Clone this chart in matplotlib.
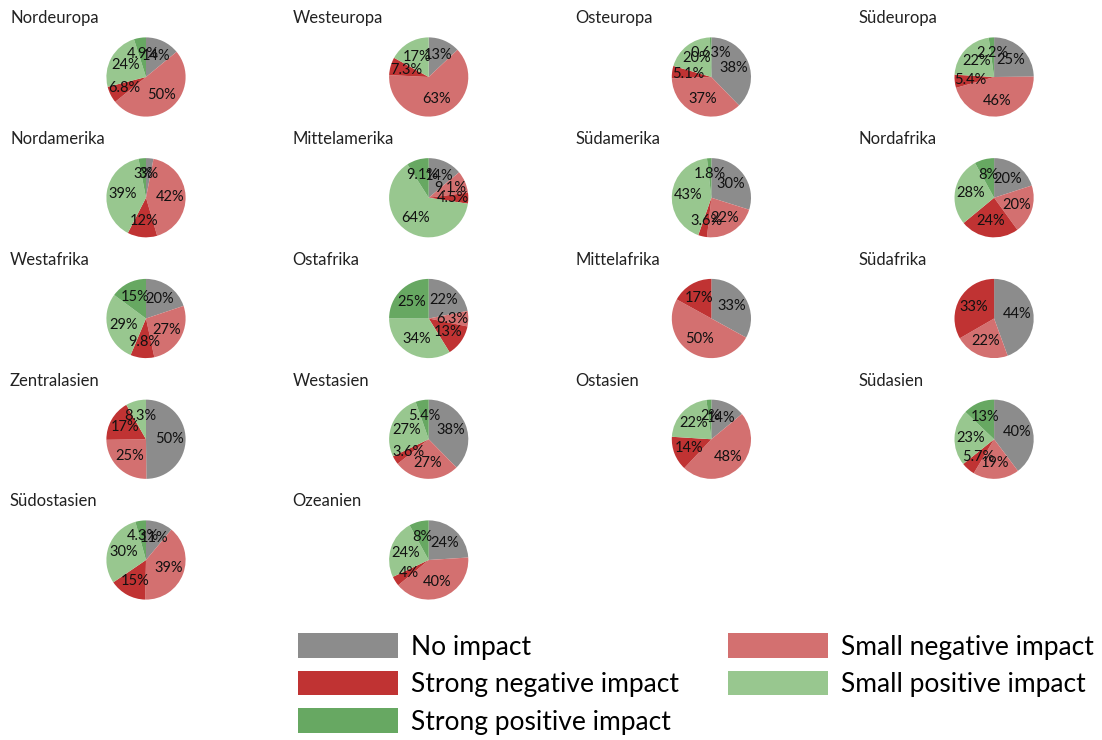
import matplotlib.pyplot as plt
from matplotlib.patches import Patch

plt.rcParams['font.family'] = ['Lato', 'DejaVu Sans']

# Kategorien (Reihenfolge im Uhrzeigersinn ab 12 Uhr)
kategorien = ['No impact', 'Small negative impact', 'Strong negative impact',
              'Small positive impact', 'Strong positive impact']
farben = ['#8c8c8c', '#d37070', '#c03333', '#98c78f', '#67a862']

regionen = ['Nordeuropa', 'Westeuropa', 'Osteuropa', 'Südeuropa',
            'Nordamerika', 'Mittelamerika', 'Südamerika', 'Nordafrika',
            'Westafrika', 'Ostafrika', 'Mittelafrika', 'Südafrika',
            'Zentralasien', 'Westasien', 'Ostasien', 'Südasien',
            'Südostasien', 'Ozeanien']

# Anteile in Prozent je Region (No, Small neg, Strong neg, Small pos, Strong pos)
nordeuropa = [14, 50, 6.8, 24, 4.9]
westeuropa = [13, 63, 7.3, 17, 0]
osteuropa = [38, 37, 5.1, 20, 0.63]
suedeuropa = [25, 46, 5.4, 22, 2.2]
nordamerika = [3, 42, 12, 39, 3]
mittelamerika = [14, 9.1, 4.5, 64, 9.1]
suedamerika = [30, 22, 3.6, 43, 1.8]
nordafrika = [20, 20, 24, 28, 8]
westafrika = [20, 27, 9.8, 29, 15]
ostafrika = [22, 6.3, 13, 34, 25]
mittelafrika = [33, 50, 17, 0, 0]
suedafrika = [44, 22, 33, 0, 0]
zentralasien = [50, 25, 17, 8.3, 0]
westasien = [38, 27, 3.6, 27, 5.4]
ostasien = [14, 48, 14, 22, 2]
suedasien = [40, 19, 5.7, 23, 13]
suedostasien = [11, 39, 15, 30, 4.3]
ozeanien = [24, 40, 4, 24, 8]

werte = [nordeuropa, westeuropa, osteuropa, suedeuropa,
         nordamerika, mittelamerika, suedamerika, nordafrika,
         westafrika, ostafrika, mittelafrika, suedafrika,
         zentralasien, westasien, ostasien, suedasien,
         suedostasien, ozeanien]

W, H = 1102, 740
fig = plt.figure(figsize=(W / 100, H / 100), dpi=100)

ax_w, ax_h = 272, 99
for i, (name, vals) in enumerate(zip(regionen, werte)):
    zeile, spalte = divmod(i, 4)
    x0 = 10 + spalte * 282.7
    cy = 77 + zeile * 120.75
    ax = fig.add_axes([x0 / W, 1 - (cy + ax_h / 2) / H, ax_w / W, ax_h / H])
    # Nullwerte weglassen
    v = [a for a in vals if a > 0]
    c = [f for a, f in zip(vals, farben) if a > 0]
    summe = sum(v)
    ax.pie(v, colors=c, startangle=90, counterclock=False,
           autopct=lambda p, t=summe: f'{p * t / 100:.2g}%',
           textprops={'fontsize': 10.5, 'color': '#111111'},
           wedgeprops={'linewidth': 0})
    ax.set_aspect('equal', adjustable='datalim')
    ax.set_title(name, loc='left', fontsize=12, pad=3, color='#222222')

# Legende
reihenfolge = [0, 2, 4, 1, 3]
handles = [Patch(facecolor=farben[k], label=kategorien[k]) for k in reihenfolge]
fig.legend(handles=handles, loc='center', bbox_to_anchor=(696 / W, 1 - 684 / H),
           ncol=2, frameon=False, fontsize=19, handlelength=3.8, handleheight=1.05,
           columnspacing=1.85, labelspacing=0.43, handletextpad=0.5,
           borderpad=0.2)

plt.savefig('out.png', dpi=100)
